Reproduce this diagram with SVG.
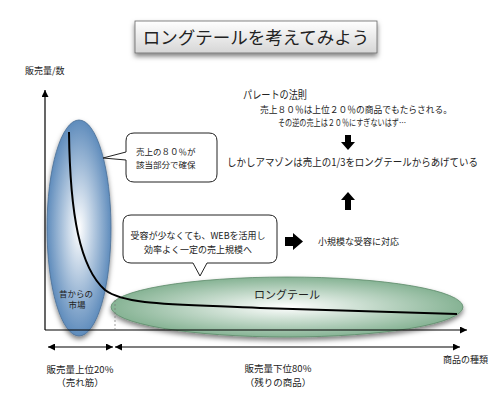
<svg xmlns="http://www.w3.org/2000/svg" width="500" height="400" viewBox="0 0 500 400">
<style>
text{font-family:"Noto Sans CJK JP","Noto Sans",sans-serif;fill:#222}
.ax{stroke:#000;stroke-width:1.2;fill:none}
.blk{fill:#000}
.call{fill:#fff;stroke:#222;stroke-width:1}
</style>
<defs>
<linearGradient id="tg" x1="0" y1="0" x2="0" y2="1"><stop offset="0" stop-color="#ffffff"/><stop offset="1" stop-color="#d6d6d6"/></linearGradient>
<radialGradient id="bg" cx="0.5" cy="0.5" r="0.5"><stop offset="0" stop-color="#ffffff"/><stop offset="1" stop-color="#5f8cbc"/></radialGradient>
<radialGradient id="gg" cx="0.5" cy="0.5" r="0.5"><stop offset="0" stop-color="#ffffff"/><stop offset="1" stop-color="#86b394"/></radialGradient>
<filter id="sh" x="-20%" y="-20%" width="140%" height="150%"><feDropShadow dx="0" dy="3" stdDeviation="2.5" flood-color="#000" flood-opacity="0.5"/></filter>
<marker id="ah" viewBox="0 0 10 10" refX="10" refY="5" markerWidth="9" markerHeight="7" markerUnits="userSpaceOnUse" orient="auto-start-reverse"><path d="M0,0 L10,5 L0,10 z" fill="#000"/></marker>
</defs>

<g id="title">
<rect x="135" y="21" width="242" height="32" fill="url(#tg)" stroke="#666" stroke-width="0.8" filter="url(#sh)"/>
<text x="256" y="44" font-size="17.5" text-anchor="middle">ロングテールを考えてみよう</text>
</g>

<g id="old-market">
<ellipse cx="79" cy="228" rx="32" ry="108" fill="url(#bg)" stroke="#4a6f96" stroke-width="0.8" filter="url(#sh)"/>
<text x="76" y="297" font-size="8.5" text-anchor="middle">昔からの</text>
<text x="77" y="308" font-size="8.5" text-anchor="middle">市場</text>
</g>

<g id="long-tail">
<ellipse cx="287" cy="307" rx="176" ry="30" fill="url(#gg)" stroke="#5d8a6a" stroke-width="0.8" filter="url(#sh)"/>
<text x="287" y="299" font-size="11" text-anchor="middle">ロングテール</text>
</g>

<g id="axes">
<line class="ax" x1="45" y1="330" x2="45" y2="90" marker-end="url(#ah)"/>
<line class="ax" x1="45" y1="330" x2="467" y2="330" marker-end="url(#ah)"/>
<text x="25" y="74" font-size="9">販売量/数</text>
<text x="443" y="363" font-size="9">商品の種類</text>
<line x1="115" y1="300" x2="115" y2="330" stroke="#777" stroke-width="0.7" stroke-dasharray="2,2"/>
</g>

<g id="curve">
<path d="M69,132 C70,215 80,268 105,290 C125,305 170,304 260,308 L457,314" fill="none" stroke="#000" stroke-width="2"/>
</g>

<g id="callout1">
<path class="call" d="M134,133 H209 Q217,133 217,141 V174 Q217,182 209,182 H134 Q126,182 126,174 V160 L103,158 L126,152 V141 Q126,133 134,133 Z"/>
<text x="136" y="155" font-size="8.5">売上の８０％が</text>
<text x="136" y="168" font-size="8.5">該当部分で確保</text>
</g>

<g id="callout2">
<path class="call" d="M131,215 H269 Q277,215 277,223 V255 Q277,263 269,263 H207 L200,276 L193,263 H131 Q123,263 123,255 V223 Q123,215 131,215 Z"/>
<text x="198" y="239" font-size="9" text-anchor="middle">受容が少なくても、WEBを活用し</text>
<text x="198" y="253" font-size="9" text-anchor="middle">効率よく一定の売上規模へ</text>
</g>

<g id="small-demand">
<path class="blk" d="M285,237 H293 V233 L303,241.5 L293,250 V246 H285 Z"/>
<text x="318" y="245" font-size="9">小規模な受容に対応</text>
</g>

<g id="pareto">
<text x="243" y="99" font-size="11" textLength="64" lengthAdjust="spacingAndGlyphs">パレートの法則</text>
<text x="260" y="113" font-size="8.8" textLength="192" lengthAdjust="spacingAndGlyphs">売上８０％は上位２０％の商品でもたらされる。</text>
<text x="278" y="126" font-size="8.8" textLength="128" lengthAdjust="spacingAndGlyphs">その逆の売上は２０％にすぎないはず…</text>
<path class="blk" d="M345,135 H351 V142 H355 L348,150 L341,142 H345 Z"/>
</g>

<g id="amazon">
<text x="227" y="166" font-size="10.5" textLength="251" lengthAdjust="spacingAndGlyphs">しかしアマゾンは売上の1/3をロングテールからあげている</text>
<path class="blk" d="M348,192 L355,200 H351 V210 H345 V200 H341 Z"/>
</g>

<g id="ranges">
<line class="ax" x1="48" y1="347" x2="113" y2="347" marker-start="url(#ah)" marker-end="url(#ah)"/>
<line class="ax" x1="115" y1="347" x2="460" y2="347" marker-start="url(#ah)" marker-end="url(#ah)"/>
<text x="80" y="373" font-size="9.5" text-anchor="middle">販売量上位20%</text>
<text x="80" y="386" font-size="9.5" text-anchor="middle">（売れ筋）</text>
<text x="278" y="372" font-size="9.5" text-anchor="middle">販売量下位80%</text>
<text x="278" y="386" font-size="9.5" text-anchor="middle">（残りの商品）</text>
</g>
</svg>
